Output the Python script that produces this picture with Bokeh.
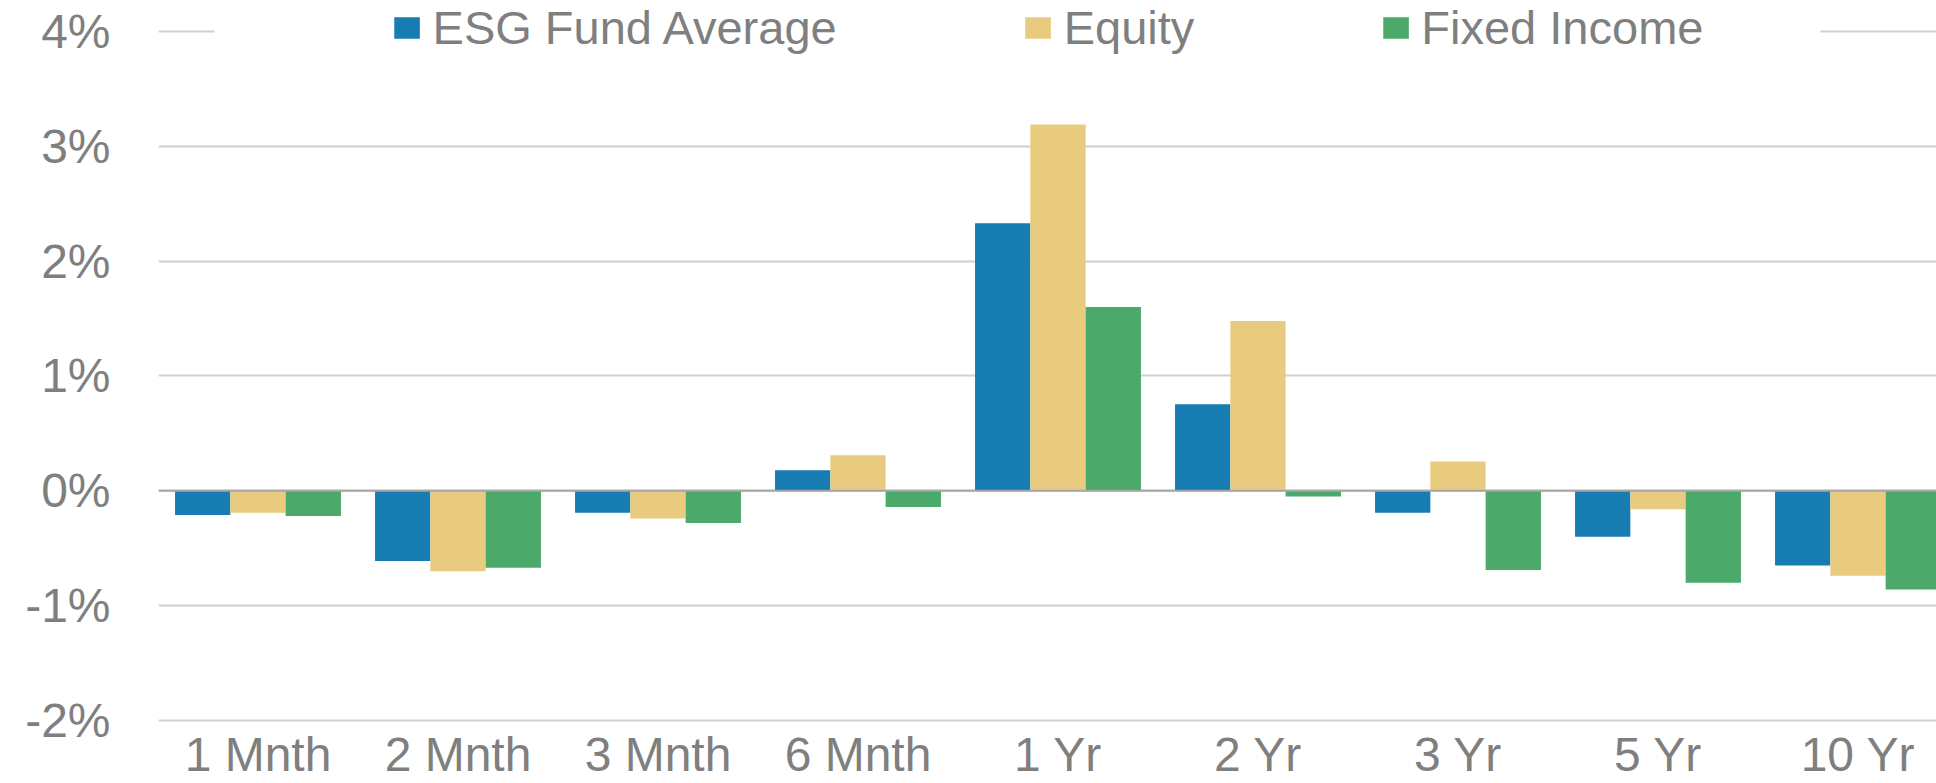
from bokeh.plotting import figure
from bokeh.models import (Range1d, FixedTicker, Legend, LegendItem, Span,
                          BoxAnnotation, ColumnDataSource)
from bokeh.transform import dodge
from bokeh.embed import file_html
from bokeh.resources import INLINE

# ---- data ----
categories = ["1 Mnth", "2 Mnth", "3 Mnth", "6 Mnth", "1 Yr", "2 Yr", "3 Yr", "5 Yr", "10 Yr"]
esg_fund_average = [-0.21, -0.61, -0.19, 0.18, 2.33, 0.755, -0.19, -0.40, -0.65]
equity = [-0.19, -0.70, -0.24, 0.31, 3.19, 1.48, 0.255, -0.16, -0.74]
fixed_income = [-0.22, -0.67, -0.28, -0.14, 1.60, -0.05, -0.69, -0.80, -0.86]
series_names = ["ESG Fund Average", "Equity", "Fixed Income"]
y_ticks = [-2, -1, 0, 1, 2, 3, 4]
y_tick_labels = ["-2%", "-1%", "0%", "1%", "2%", "3%", "4%"]

# ---- style ----
colors = ["#167CB1", "#E9CB80", "#4BAA6A"]
text_color = "#7f7f7f"
font = "Liberation Sans"
bar_w = 0.2765

src = ColumnDataSource(dict(
    x=list(range(len(categories))),
    esg=esg_fund_average, eq=equity, fi=fixed_income,
))

p = figure(width=1936, height=783, output_backend="svg", toolbar_location=None,
           x_range=Range1d(-0.4975, 8.3925), y_range=Range1d(-2.061, 4.27),
           min_border_left=158, min_border_right=0, min_border_top=0,
           min_border_bottom=0, outline_line_color=None)

p.xgrid.visible = False
p.ygrid.ticker = FixedTicker(ticks=y_ticks)
p.ygrid.grid_line_color = "#d0d0d0"
p.ygrid.grid_line_width = 2

# the legend hides the top gridline in the original
p.add_layout(BoxAnnotation(left=-0.2175, right=7.8125, bottom=3.97, top=4.03,
                           fill_color="white", fill_alpha=1.0, line_color=None,
                           level="underlay"))

renderers = []
for col, off, c in zip(["esg", "eq", "fi"], [-bar_w, 0.0, bar_w], colors):
    r = p.vbar(x=dodge("x", off, range=p.x_range), top=col, bottom=0, width=bar_w,
               source=src, fill_color=c, line_color=None)
    renderers.append(r)

p.add_layout(Span(location=0, dimension="width", line_color="#a6a6a6", line_width=2))

# axes
p.xaxis.ticker = FixedTicker(ticks=list(range(len(categories))))
p.xaxis.major_label_overrides = {i: c for i, c in enumerate(categories)}
p.yaxis.ticker = FixedTicker(ticks=y_ticks)
p.yaxis.major_label_overrides = {t: l for t, l in zip(y_ticks, y_tick_labels)}
for ax in (p.xaxis[0], p.yaxis[0]):
    ax.axis_line_color = None
    ax.major_tick_line_color = None
    ax.minor_tick_line_color = None
    ax.major_tick_out = 0
    ax.major_tick_in = 0
    ax.minor_tick_out = 0
    ax.minor_tick_in = 0
    ax.major_label_text_color = text_color
    ax.major_label_text_font = font
    ax.major_label_text_font_size = "48px"
p.xaxis.major_label_standoff = 0
p.yaxis.major_label_standoff = 48

legend = Legend(items=[LegendItem(label=n, renderers=[r]) for n, r in zip(series_names, renderers)],
                orientation="horizontal", location="top_center",
                label_text_font=font, label_text_font_size="47px",
                label_text_color=text_color, glyph_width=32, glyph_height=27,
                label_standoff=10, spacing=185, padding=14, margin=0,
                background_fill_alpha=0, border_line_color=None)
p.add_layout(legend)

open("out.html", "w").write(file_html(p, INLINE))
